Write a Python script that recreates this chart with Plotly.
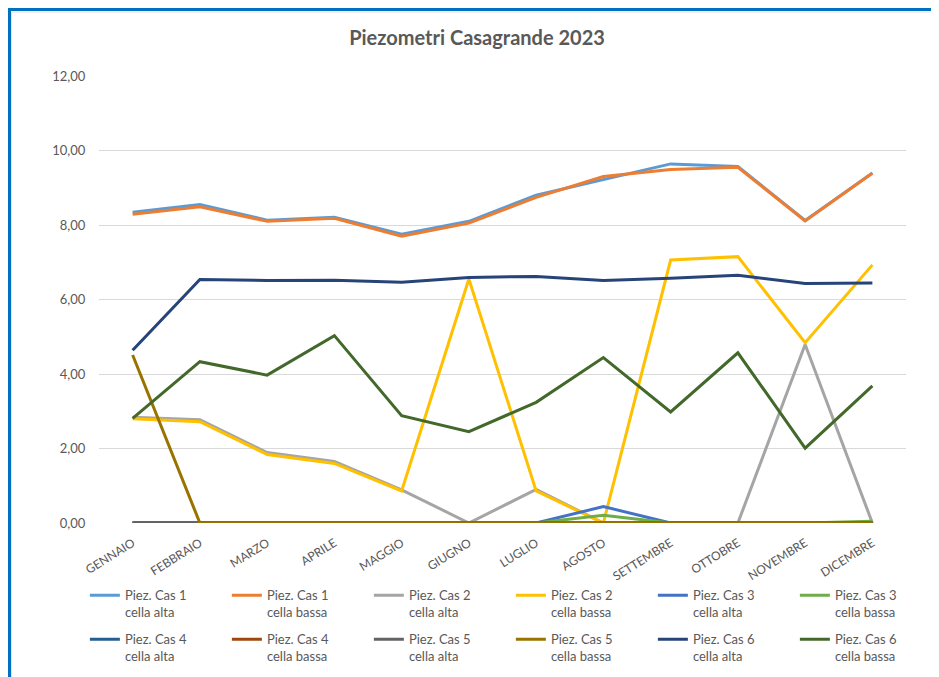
import plotly.graph_objects as go

# Dati (livelli piezometrici 2023)
mesi = ["GENNAIO", "FEBBRAIO", "MARZO", "APRILE", "MAGGIO", "GIUGNO",
        "LUGLIO", "AGOSTO", "SETTEMBRE", "OTTOBRE", "NOVEMBRE", "DICEMBRE"]

cas1_alta = [8.34, 8.55, 8.13, 8.21, 7.75, 8.10, 8.80, 9.23, 9.64, 9.57, 8.12, 9.40]
cas1_bassa = [8.29, 8.49, 8.10, 8.18, 7.70, 8.05, 8.74, 9.30, 9.49, 9.55, 8.11, 9.39]
cas2_alta = [2.84, 2.77, 1.89, 1.65, 0.89, 0.00, 0.90, 0.00, 0.00, 0.00, 4.79, 0.00]
cas2_bassa = [2.80, 2.72, 1.84, 1.60, 0.86, 6.55, 0.86, 0.00, 7.06, 7.15, 4.84, 6.93]
cas3_alta = [0, 0, 0, 0, 0, 0, 0, 0.44, 0, 0, 0, 0]
cas3_bassa = [0, 0, 0, 0, 0, 0, 0, 0.21, 0, 0, 0, 0.05]
cas4_alta = [0, 0, 0, 0, 0, 0, 0, 0, 0, 0, 0, 0]
cas4_bassa = [0, 0, 0, 0, 0, 0, 0, 0, 0, 0, 0, 0]
cas5_alta = [0, 0, 0, 0, 0, 0, 0, 0, 0, 0, 0, 0]
cas5_bassa = [4.51, 0, 0, 0, 0, 0, 0, 0, 0, 0, 0, 0]
cas6_alta = [4.64, 6.54, 6.51, 6.52, 6.46, 6.59, 6.62, 6.51, 6.57, 6.65, 6.43, 6.44]
cas6_bassa = [2.81, 4.33, 3.97, 5.03, 2.88, 2.45, 3.24, 4.44, 2.98, 4.57, 2.01, 3.68]

serie = [
    ("Piez. Cas 1<br>cella alta", cas1_alta, "#5B9BD5"),
    ("Piez. Cas 1<br>cella bassa", cas1_bassa, "#ED7D31"),
    ("Piez. Cas 2<br>cella alta", cas2_alta, "#A5A5A5"),
    ("Piez. Cas 2<br>cella bassa", cas2_bassa, "#FFC000"),
    ("Piez. Cas 3<br>cella alta", cas3_alta, "#4472C4"),
    ("Piez. Cas 3<br>cella bassa", cas3_bassa, "#70AD47"),
    ("Piez. Cas 4<br>cella alta", cas4_alta, "#255E91"),
    ("Piez. Cas 4<br>cella bassa", cas4_bassa, "#9E480E"),
    ("Piez. Cas 5<br>cella alta", cas5_alta, "#636363"),
    ("Piez. Cas 5<br>cella bassa", cas5_bassa, "#997300"),
    ("Piez. Cas 6<br>cella alta", cas6_alta, "#264478"),
    ("Piez. Cas 6<br>cella bassa", cas6_bassa, "#43682B"),
]

fig = go.Figure()
for i, (nome, valori, colore) in enumerate(serie):
    # due righe di legenda, come in Excel
    fig.add_trace(go.Scatter(x=mesi, y=valori, name=nome, mode="lines",
                             line=dict(color=colore, width=3),
                             legend="legend" if i < 6 else "legend2"))

grigio = "#595959"
leg_common = dict(orientation="h", x=-0.0175, xanchor="left", yanchor="top",
                  entrywidth=97, entrywidthmode="pixels", valign="top",
                  traceorder="normal", font=dict(family="Lato", size=13, color=grigio))

# la pagina html ha un margine di 8px sul body: margini compensati
fig.update_layout(
    width=939, height=677,
    paper_bgcolor="white", plot_bgcolor="white",
    margin=dict(l=91, r=41, t=68, b=162),
    separators=",.",
    font=dict(family="Lato", size=13, color=grigio),
    title=dict(text="<b>Piezometri Casagrande 2023</b>", x=0.4995, xanchor="center",
               y=0.956, yanchor="middle", font=dict(family="Lato", size=20, color=grigio)),
    showlegend=True,
    legend=dict(y=-0.128, **leg_common),
    legend2=dict(y=-0.2266, **leg_common),
    xaxis=dict(range=[-0.5, 11.5], tickangle=-32, showgrid=False, showline=False,
               ticks="", ticklabelstandoff=10, tickfont=dict(size=12, color=grigio)),
    yaxis=dict(range=[0, 12], dtick=2, tickformat=".2f", showgrid=True,
               gridcolor="#D9D9D9", gridwidth=1, zeroline=False, showline=False,
               ticks="outside", ticklen=10, tickcolor="white",
               tickfont=dict(size=13, color=grigio)),
)

# cornice blu del grafico: solo lato sinistro e lato alto sono visibili
bordo = dict(type="line", xref="paper", yref="paper", layer="below")
fig.add_shape(x0=-0.1127, x1=1.1, y0=1.1488, y1=1.1488,
              line=dict(color="#0070C0", width=3), **bordo)
fig.add_shape(x0=-0.1109, x1=-0.1109, y0=-0.4, y1=1.1522,
              line=dict(color="#0070C0", width=3), **bordo)
fig.add_shape(x0=-0.1090, x1=1.1, y0=1.1432, y1=1.1432,
              line=dict(color="#E3E3E3", width=1), **bordo)
fig.add_shape(x0=-0.1084, x1=-0.1084, y0=-0.4, y1=1.1432,
              line=dict(color="#E3E3E3", width=1), **bordo)

fig.write_html("out.html")
